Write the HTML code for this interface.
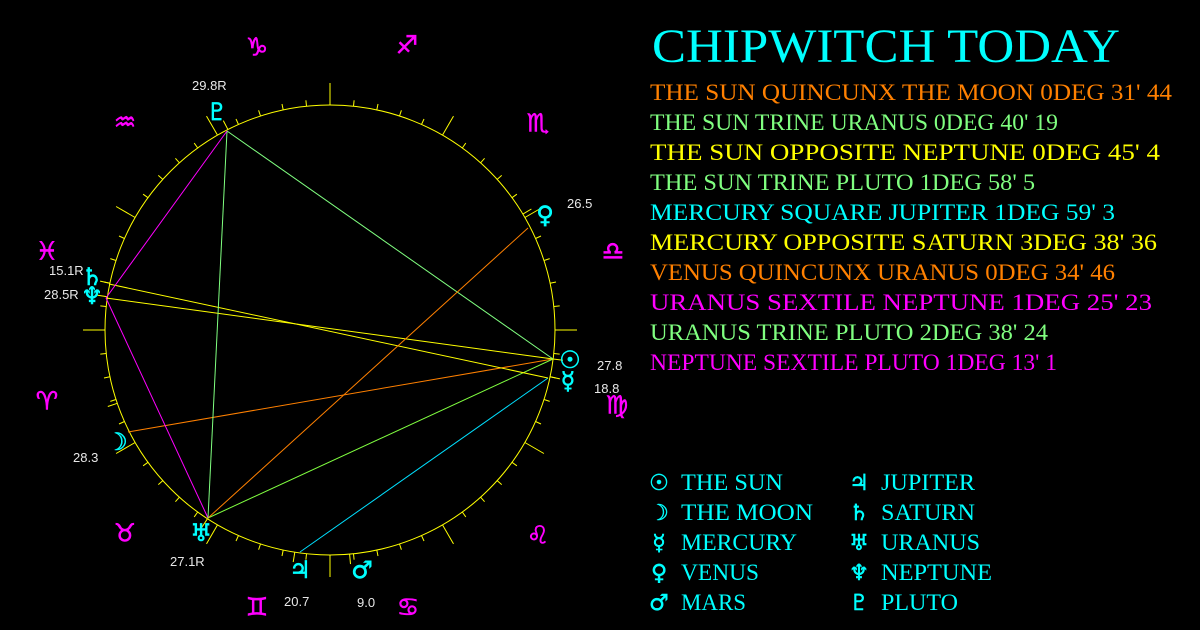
<!DOCTYPE html>
<html><head><meta charset="utf-8">
<style>
html,body{margin:0;padding:0;background:#000;}
svg{display:block;}
.t{font-family:"Liberation Serif",serif;}
.g{font-family:"DejaVu Sans",sans-serif;}
.n{font-family:"Liberation Sans",sans-serif;font-size:13px;fill:#e8e8e8;}
</style></head>
<body>
<svg id="s" width="1200" height="630" viewBox="0 0 1200 630" xmlns="http://www.w3.org/2000/svg">
<rect width="1200" height="630" fill="#000"/>
<circle cx="330" cy="330" r="225" fill="none" stroke="#ffff00" stroke-width="1"/>
<g id="ticks" stroke="#ffff00" stroke-width="1"></g>
<g stroke-width="1" fill="none">
<line x1="553" y1="359" x2="128" y2="432" stroke="#ff8000"/>
<line x1="553" y1="359" x2="208" y2="518" stroke="#80ff40"/>
<line x1="553" y1="359" x2="106" y2="298" stroke="#ffff00"/>
<line x1="553" y1="359" x2="227" y2="131" stroke="#80ff80"/>
<line x1="548" y1="378" x2="300" y2="552" stroke="#00e0ff"/>
<line x1="548" y1="378" x2="109" y2="284" stroke="#ffff00"/>
<line x1="528" y1="228" x2="208" y2="518" stroke="#ff8000"/>
<line x1="208" y1="518" x2="106" y2="298" stroke="#ff00ff"/>
<line x1="208" y1="518" x2="227" y2="131" stroke="#80ff80"/>
<line x1="106" y1="298" x2="227" y2="131" stroke="#ff00ff"/>
</g>
<g class="g" fill="#ff00ff" font-size="25" text-anchor="middle" dominant-baseline="central" stroke="#ff00ff" stroke-width="0.6">
<text x="617" y="405">♍&#xFE0E;</text>
<text x="538" y="535">♌&#xFE0E;</text>
<text x="408" y="607">♋&#xFE0E;</text>
<text x="257" y="607">♊&#xFE0E;</text>
<text x="125" y="533">♉&#xFE0E;</text>
<text x="47" y="401">♈&#xFE0E;</text>
<text x="47" y="251">♓&#xFE0E;</text>
<text x="125" y="122">♒&#xFE0E;</text>
<text x="257" y="47">♑&#xFE0E;</text>
<text x="407" y="45">♐&#xFE0E;</text>
<text x="538" y="123">♏&#xFE0E;</text>
<text x="613" y="251">♎&#xFE0E;</text>
</g>
<g class="g" fill="#00ffff" font-size="24" text-anchor="middle" dominant-baseline="central" stroke="#00ffff" stroke-width="0.6">
<text x="570" y="360">☉&#xFE0E;</text>
<text x="568" y="381">☿&#xFE0E;</text>
<text x="545" y="215">♀&#xFE0E;</text>
<text x="217" y="112">♇&#xFE0E;</text>
<text x="92" y="277">♄&#xFE0E;</text>
<text x="92" y="296">♆&#xFE0E;</text>
<text x="117" y="442">☽&#xFE0E;</text>
<text x="201" y="533">♅&#xFE0E;</text>
<text x="300" y="570">♃&#xFE0E;</text>
<text x="362" y="570">♂&#xFE0E;</text>
</g>
<g class="n">
<text x="597" y="370">27.8</text>
<text x="594" y="393">18.8</text>
<text x="567" y="208">26.5</text>
<text x="192" y="90">29.8R</text>
<text x="49" y="275">15.1R</text>
<text x="44" y="299">28.5R</text>
<text x="73" y="462">28.3</text>
<text x="170" y="566">27.1R</text>
<text x="284" y="606">20.7</text>
<text x="357" y="607">9.0</text>
</g>
<text class="t" x="652" y="62" font-size="48" fill="#00ffff" textLength="468" lengthAdjust="spacingAndGlyphs">CHIPWITCH TODAY</text>
<g class="t" font-size="23">
<text x="650" y="100" fill="#ff8000" textLength="522" lengthAdjust="spacingAndGlyphs">THE SUN QUINCUNX THE MOON 0DEG 31' 44</text>
<text x="650" y="130" fill="#80ff80" textLength="408" lengthAdjust="spacingAndGlyphs">THE SUN TRINE URANUS 0DEG 40' 19</text>
<text x="650" y="160" fill="#ffff00" textLength="510" lengthAdjust="spacingAndGlyphs">THE SUN OPPOSITE NEPTUNE 0DEG 45' 4</text>
<text x="650" y="190" fill="#80ff80" textLength="385" lengthAdjust="spacingAndGlyphs">THE SUN TRINE PLUTO 1DEG 58' 5</text>
<text x="650" y="220" fill="#00ffff" textLength="465" lengthAdjust="spacingAndGlyphs">MERCURY SQUARE JUPITER 1DEG 59' 3</text>
<text x="650" y="250" fill="#ffff00" textLength="507" lengthAdjust="spacingAndGlyphs">MERCURY OPPOSITE SATURN 3DEG 38' 36</text>
<text x="650" y="280" fill="#ff8000" textLength="465" lengthAdjust="spacingAndGlyphs">VENUS QUINCUNX URANUS 0DEG 34' 46</text>
<text x="650" y="310" fill="#ff00ff" textLength="502" lengthAdjust="spacingAndGlyphs">URANUS SEXTILE NEPTUNE 1DEG 25' 23</text>
<text x="650" y="340" fill="#80ff80" textLength="398" lengthAdjust="spacingAndGlyphs">URANUS TRINE PLUTO 2DEG 38' 24</text>
<text x="650" y="370" fill="#ff00ff" textLength="407" lengthAdjust="spacingAndGlyphs">NEPTUNE SEXTILE PLUTO 1DEG 13' 1</text>
</g>
<g class="g" fill="#00ffff" font-size="22" text-anchor="middle" stroke="#00ffff" stroke-width="0.5">
<text x="659" y="490">☉&#xFE0E;</text>
<text x="659" y="520">☽&#xFE0E;</text>
<text x="659" y="550">☿&#xFE0E;</text>
<text x="659" y="580">♀&#xFE0E;</text>
<text x="659" y="610">♂&#xFE0E;</text>
<text x="859" y="490">♃&#xFE0E;</text>
<text x="859" y="520">♄&#xFE0E;</text>
<text x="859" y="550">♅&#xFE0E;</text>
<text x="859" y="580">♆&#xFE0E;</text>
<text x="859" y="610">♇&#xFE0E;</text>
</g>
<g class="t" fill="#00ffff" font-size="23">
<text x="681" y="490" textLength="102" lengthAdjust="spacingAndGlyphs">THE SUN</text>
<text x="681" y="520" textLength="132" lengthAdjust="spacingAndGlyphs">THE MOON</text>
<text x="681" y="550" textLength="116" lengthAdjust="spacingAndGlyphs">MERCURY</text>
<text x="681" y="580" textLength="78" lengthAdjust="spacingAndGlyphs">VENUS</text>
<text x="681" y="610" textLength="65" lengthAdjust="spacingAndGlyphs">MARS</text>
<text x="881" y="490" textLength="94" lengthAdjust="spacingAndGlyphs">JUPITER</text>
<text x="881" y="520" textLength="94" lengthAdjust="spacingAndGlyphs">SATURN</text>
<text x="881" y="550" textLength="99" lengthAdjust="spacingAndGlyphs">URANUS</text>
<text x="881" y="580" textLength="111" lengthAdjust="spacingAndGlyphs">NEPTUNE</text>
<text x="881" y="610" textLength="77" lengthAdjust="spacingAndGlyphs">PLUTO</text>
</g>
</svg>
<script>
(function(){
var g=document.getElementById('ticks'),ns='http://www.w3.org/2000/svg',cx=330,cy=330,r=225;
function L(a,r1,r2){var t=a*Math.PI/180,l=document.createElementNS(ns,'line');
l.setAttribute('x1',(cx+r1*Math.cos(t)).toFixed(1));l.setAttribute('y1',(cy-r1*Math.sin(t)).toFixed(1));
l.setAttribute('x2',(cx+r2*Math.cos(t)).toFixed(1));l.setAttribute('y2',(cy-r2*Math.sin(t)).toFixed(1));g.appendChild(l);}
for(var a=0;a<360;a+=6){if(a%30==0)L(a,r,r+22);else L(a,r,r+6);}
var p=[[-7.4,553,359],[-12,548,378],[31,528,228],[117,227,131],[171.5,106,298],[168,109,284],[-161,128,432],[-123,208,518],[-99,300,552],[-85,350,555]];
p.forEach(function(q){L(q[0],r,r+10);});
})();
</script>
</body></html>
